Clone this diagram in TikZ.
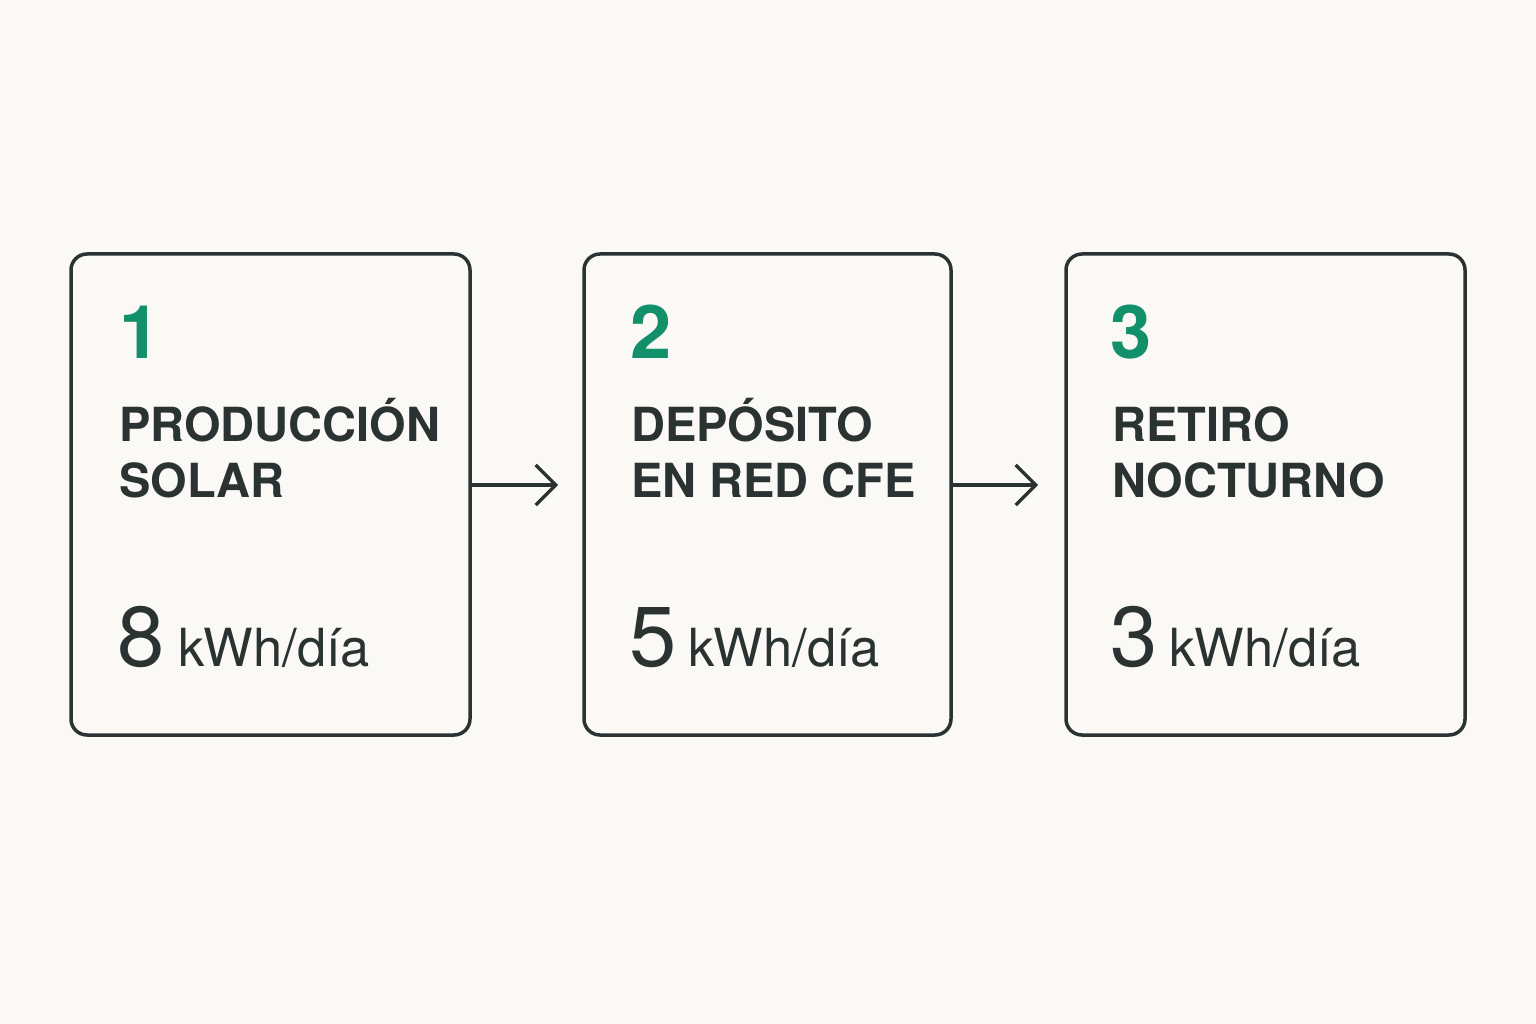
\documentclass[tikz,border=0pt]{standalone}
\usepackage{fontspec}
\setmainfont{TeX Gyre Heros}
\usetikzlibrary{arrows.meta}
\definecolor{bgc}{HTML}{FAF9F6}
\definecolor{ink}{HTML}{2A3331}
\definecolor{grn}{HTML}{12906A}
\tikzset{
  box/.style={draw=ink, line width=3.5pt, rounded corners=16pt, inner sep=0pt, fill=bgc},
  numlbl/.style={anchor=base west, inner sep=0pt, text=grn, font=\fontsize{74}{74}\selectfont\bfseries},
  ttl/.style={anchor=base west, inner sep=0pt, text=ink, font=\fontsize{47}{47}\selectfont\bfseries},
  bignum/.style={anchor=base west, inner sep=0pt, text=ink, font=\fontsize{85}{85}\selectfont},
  unit/.style={anchor=base west, inner sep=0pt, text=ink, font=\fontsize{52.5}{52.5}\selectfont},
  arr/.style={draw=ink, line width=3.3pt, -{Straight Barb[length=20pt,width=40pt]}},
}
\begin{document}
\begin{tikzpicture}[x=1pt,y=-1pt]
\fill[bgc] (0,0) rectangle (1536,1024);
\useasboundingbox (0,0) rectangle (1536,1024);
% boxes
\node[box, minimum width=399pt, minimum height=481pt] (b1) at (270.5,494.5) {};
\node[box, minimum width=367pt, minimum height=481pt] (b2) at (767.5,494.5) {};
\node[box, minimum width=399pt, minimum height=481pt] (b3) at (1265.5,494.5) {};
% box 1
\node[numlbl] (n1) at (119,358) {1};
\node[ttl] (t1a) at (119,441) {PRODUCCIÓN};
\node[ttl] (t1b) at (119,497) {SOLAR};
\node[bignum] (v1) at (117,666) {8};
\node[unit] (u1) at (178,666) {kWh/día};
% box 2
\node[numlbl] (n2) at (630,358) {2};
\node[ttl] (t2a) at (631,441) {DEPÓSITO};
\node[ttl] (t2b) at (631,497) {EN RED CFE};
\node[bignum] (v2) at (629,666) {5};
\node[unit] (u2) at (688,666) {kWh/día};
% box 3
\node[numlbl] (n3) at (1110,358) {3};
\node[ttl] (t3a) at (1112,441) {RETIRO};
\node[ttl] (t3b) at (1112,497) {NOCTURNO};
\node[bignum] (v3) at (1110,666) {3};
\node[unit] (u3) at (1169,666) {kWh/día};
% arrows
\coordinate (c1) at (558,485);
\coordinate (c2) at (1038,485);
\draw[arr] (b1.east |- c1) -- (c1);
\draw[arr] (b2.east |- c2) -- (c2);
\end{tikzpicture}
\end{document}
